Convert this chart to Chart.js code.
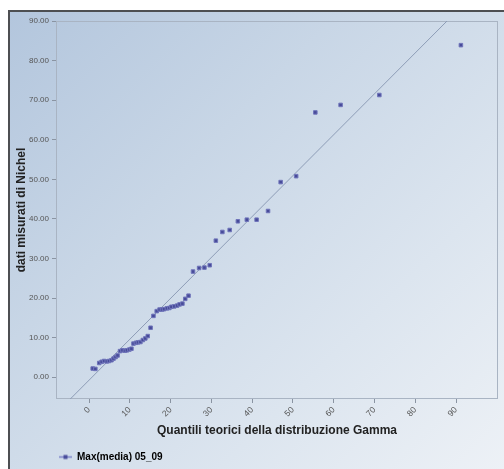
<!DOCTYPE html>
<html>
<head>
<meta charset="utf-8">
<script src="https://cdn.jsdelivr.net/npm/chart.js@4/dist/chart.umd.min.js"></script>
<style>
  html, body { margin: 0; padding: 0; background: #ffffff; }
  #wrap { position: relative; width: 504px; height: 469px; overflow: hidden; }
  #bg { position: absolute; left: 8px; top: 10px; width: 496px; height: 459px;
        border-top: 2px solid #4d4f52; border-left: 2px solid #4d4f52; box-sizing: border-box;
        background: linear-gradient(135deg, #b3c6dd 0%, #c8d6e6 35%, #dce5ef 70%, #edf1f6 100%); }
  #c { position: absolute; left: 0; top: 0; }
</style>
</head>
<body>
<div id="wrap">
  <div id="bg"></div>
  <canvas id="c" width="504" height="469"></canvas>
</div>
<script>
// Series: theoretical Gamma quantiles (x) vs measured Nickel data (y)
const seriesName = 'Max(media) 05_09';
const quantiliGamma = [0.9, 1.55, 2.5, 3.1, 3.7, 4.35, 4.9, 5.5, 6.0, 6.5, 7.0, 7.6, 8.2, 8.8, 9.3, 9.9, 10.4,
  10.9, 11.5, 12.0, 12.6, 13.2, 13.8, 14.4, 15.1, 15.8, 16.6, 17.3, 17.9, 18.4, 19.1, 19.7, 20.2, 20.9,
  21.6, 22.2, 22.9, 23.6, 24.4, 25.5, 27.0, 28.3, 29.6, 31.1, 32.7, 34.5, 36.5, 38.7, 41.1, 43.9,
  47.0, 50.8, 55.5, 61.7, 71.2, 91.2];
const datiNichel = [2.2, 2.1, 3.6, 3.9, 4.1, 4.0, 4.1, 4.3, 4.7, 5.1, 5.5, 6.6, 6.8, 6.7, 6.8, 7.0, 7.2,
  8.5, 8.7, 8.8, 8.9, 9.4, 9.8, 10.4, 12.5, 15.5, 16.7, 17.1, 17.1, 17.2, 17.4, 17.5, 17.8, 17.9,
  18.1, 18.4, 18.6, 19.8, 20.6, 26.7, 27.6, 27.7, 28.3, 34.5, 36.7, 37.2, 39.4, 39.8, 39.8, 42.0,
  49.3, 50.8, 66.9, 68.8, 71.3, 83.9];
// Reference line endpoints
const refLineX = [-4.6, 87.8];
const refLineY = [-5.5, 90];
// Ticks
const xTickValues = [0, 10, 20, 30, 40, 50, 60, 70, 80, 90];
const yTickValues = [0, 10, 20, 30, 40, 50, 60, 70, 80, 90];

const points = quantiliGamma.map((x, i) => ({ x: x, y: datiNichel[i] }));
const refPoints = refLineX.map((x, i) => ({ x: x, y: refLineY[i] }));

// legend marker: short line with a square
const legendMark = document.createElement('canvas');
legendMark.width = 13; legendMark.height = 7;
(function () {
  const g = legendMark.getContext('2d');
  g.strokeStyle = '#7a80c8'; g.lineWidth = 1.5;
  g.beginPath(); g.moveTo(0, 3.5); g.lineTo(13, 3.5); g.stroke();
  g.fillStyle = '#4a4e9c'; g.fillRect(4.5, 1.5, 4, 4);
})();

const plotFrame = {
  id: 'plotFrame',
  beforeDatasetsDraw(chart) {
    const a = chart.chartArea, ctx = chart.ctx;
    ctx.save();
    ctx.strokeStyle = '#a9b4c3'; ctx.lineWidth = 1;
    ctx.strokeRect(a.left + 0.5, a.top + 0.5, a.right - a.left - 1, a.bottom - a.top - 1);
    ctx.restore();
  }
};

new Chart(document.getElementById('c'), {
  type: 'scatter',
  data: {
    datasets: [
      {
        label: seriesName,
        data: points,
        pointStyle: 'rect',
        pointRadius: 2.5,
        backgroundColor: '#474b99',
        borderColor: '#7075ba',
        borderWidth: 1,
        showLine: false
      },
      {
        label: 'ref',
        data: refPoints,
        showLine: true,
        pointRadius: 0,
        borderColor: '#8d9cb6',
        borderWidth: 1,
        backgroundColor: 'transparent'
      }
    ]
  },
  plugins: [plotFrame],
  options: {
    responsive: false,
    animation: false,
    layout: { padding: { left: 0, top: 21, right: 6, bottom: -3 } },
    plugins: {
      tooltip: { enabled: false },
      legend: {
        position: 'bottom',
        align: 'start',
        fullSize: false,
        labels: {
          usePointStyle: true,
          pointStyleWidth: 13,
          padding: 3,
          color: '#333333',
          font: { family: 'Liberation Sans, Arial, sans-serif', size: 10, weight: 'bold' },
          filter: (item) => item.datasetIndex === 0,
          generateLabels: (chart) => [{
            text: seriesName, pointStyle: legendMark, datasetIndex: 0,
            fillStyle: '#474b99', strokeStyle: '#474b99', lineWidth: 0, hidden: false
          }]
        }
      }
    },
    scales: {
      x: {
        type: 'linear',
        min: -8.1, max: 100.3,
        afterBuildTicks: (s) => { s.ticks = xTickValues.map(v => ({ value: v })); },
        afterFit: (s) => { s.height = 50; },
        border: { display: false },
        grid: { display: true, drawOnChartArea: false, drawTicks: true, tickLength: 4, color: '#8a94a2' },
        ticks: {
          minRotation: 45, maxRotation: 45, padding: 2,
          color: '#555555',
          font: { family: 'Liberation Sans, Arial, sans-serif', size: 8.5 },
          callback: (v) => String(v)
        },
        title: {
          display: true,
          text: 'Quantili teorici della distribuzione Gamma',
          color: '#222222',
          font: { family: 'Liberation Sans, Arial, sans-serif', size: 12, weight: 'bold' },
          padding: { top: 4, bottom: 10.8 }
        }
      },
      y: {
        type: 'linear',
        min: -5.5, max: 90,
        afterBuildTicks: (s) => { s.ticks = yTickValues.map(v => ({ value: v })); },
        afterFit: (s) => { s.width = 56; },
        border: { display: false },
        grid: { display: true, drawOnChartArea: false, drawTicks: true, tickLength: 4, color: '#8a94a2' },
        ticks: {
          padding: 3,
          color: '#555555',
          font: { family: 'Liberation Sans, Arial, sans-serif', size: 8 },
          callback: (v) => Number(v).toFixed(2)
        },
        title: {
          display: true,
          text: 'dati misurati di Nichel',
          color: '#222222',
          font: { family: 'Liberation Sans, Arial, sans-serif', size: 12, weight: 'bold' },
          padding: { top: 14, bottom: 4 }
        }
      }
    }
  }
});
</script>
</body>
</html>
